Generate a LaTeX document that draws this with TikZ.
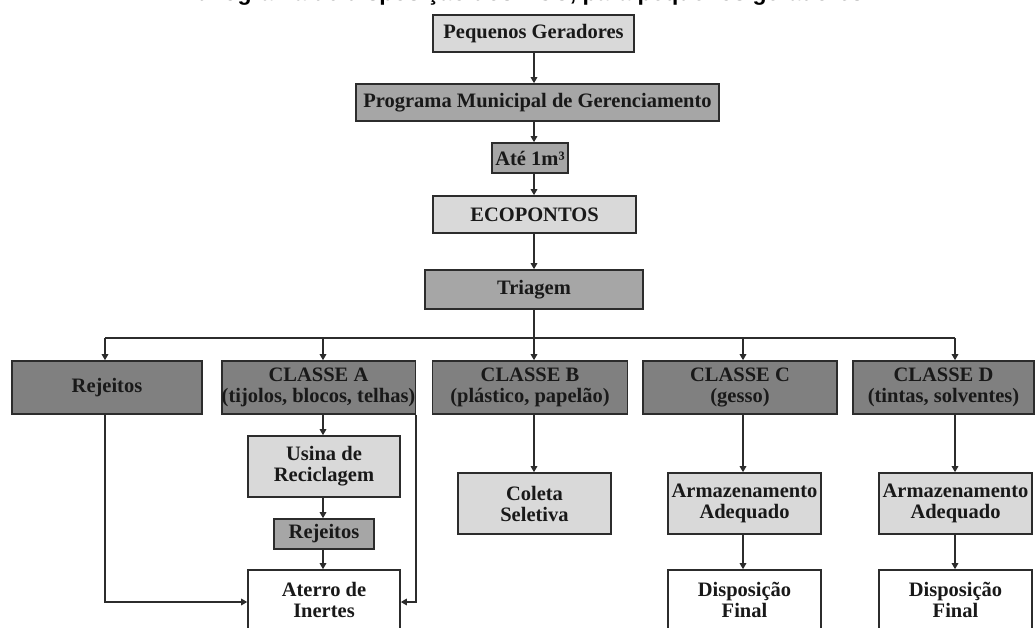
\documentclass[tikz,border=0pt]{standalone}
\usepackage{fontspec}
\setmainfont{Liberation Serif}
\newfontfamily\headfont{Liberation Sans}
\usetikzlibrary{arrows.meta}
\definecolor{boxlight}{HTML}{D9D9D9}
\definecolor{boxmid}{HTML}{A6A6A6}
\definecolor{boxdark}{HTML}{808080}
\definecolor{edgegray}{HTML}{2C2C2C}
\begin{document}
\begin{tikzpicture}[x=1pt,y=-1pt,
  box/.style={draw=edgegray,line width=1.6pt,inner sep=0pt,align=center,
    font=\bfseries\fontsize{20.5}{21}\selectfont,text=black!90},
  light/.style={box,fill=boxlight},
  mid/.style={box,fill=boxmid},
  dark/.style={box,fill=boxdark},
  plain/.style={box,fill=white},
  link/.style={draw=edgegray,line width=1.4pt},
  arr/.style={link,-{Triangle[length=6pt,width=6.5pt]}},
]
\useasboundingbox (0,0) rectangle (1035,628);
\clip (0,0) rectangle (1035,628);
\fill[white] (0,0) rectangle (1035,628);

% heading line, cut by the top edge
\node[anchor=base,inner sep=0pt,font=\headfont\bfseries\fontsize{23}{23}\selectfont] (title) at (520,0.5)
  {Fluxograma de disposição dos RCC, para pequenos geradores};

% main column
\node[light,minimum width=201pt,minimum height=37pt] (pg) at (533.5,33.5) {Pequenos Geradores};
\node[mid,minimum width=363pt,minimum height=37pt] (pm) at (537.5,102.5) {Programa Municipal de Gerenciamento};
\node[mid,minimum width=76pt,minimum height=30pt] (ate) at (530,158) {Até 1m³};
\node[light,minimum width=203pt,minimum height=37pt] (eco) at (534.5,214.5) {ECOPONTOS};
\node[mid,minimum width=218pt,minimum height=39pt] (tri) at (534,289.5) {Triagem};

% classes
\node[dark,minimum width=190pt,minimum height=53pt] (rej) at (107,387.5) {Rejeitos};
\node[dark,minimum width=193pt,minimum height=53pt] (ca) at (318.5,387.5) {CLASSE A\\(tijolos, blocos, telhas)};
\node[dark,minimum width=195pt,minimum height=53pt] (cb) at (530,387.5) {CLASSE B\\(plástico, papelão)};
\node[dark,minimum width=194pt,minimum height=53pt] (cc) at (740,387.5) {CLASSE C\\(gesso)};
\node[dark,minimum width=181pt,minimum height=53pt] (cd) at (943.5,387.5) {CLASSE D\\(tintas, solventes)};

% destinations
\node[light,minimum width=152pt,minimum height=61pt] (usina) at (324,466.5) {Usina de\\Reciclagem};
\node[mid,minimum width=100pt,minimum height=30pt] (rj2) at (324,534) {Rejeitos};
\node[plain,minimum width=152pt,minimum height=60pt] (aterro) at (324,600) {Aterro de\\Inertes};
\node[light,minimum width=153pt,minimum height=61pt] (coleta) at (534.5,503.5) {Coleta\\Seletiva};
\node[light,minimum width=153pt,minimum height=61pt] (armC) at (744.5,503.5) {Armazenamento\\Adequado};
\node[light,minimum width=153pt,minimum height=61pt] (armD) at (955.5,503.5) {Armazenamento\\Adequado};
\node[plain,minimum width=153pt,minimum height=60pt] (dispC) at (744.5,600) {Disposição\\Final};
\node[plain,minimum width=153pt,minimum height=60pt] (dispD) at (955.5,600) {Disposição\\Final};

% guide coordinates for the connector runs
\coordinate (spine) at (534,0);
\coordinate (colA) at (323,0);
\coordinate (b1) at (105,338);
\coordinate (b2) at (323,338);
\coordinate (b4) at (743,338);
\coordinate (b5) at (955,338);
\coordinate (lowrun) at (0,602);

% main column connectors
\draw[arr] (pg.south -| spine) -- (pm.north -| spine);
\draw[arr] (pm.south -| spine) -- (ate.north -| spine);
\draw[arr] (ate.south -| spine) -- (eco.north -| spine);
\draw[arr] (eco.south -| spine) -- (tri.north -| spine);

% distribution bus
\draw[link] (b1) -- (b5);
\draw[arr] (tri.south -| spine) -- (cb.north -| spine);
\draw[arr] (b1) -- (rej.north -| b1);
\draw[arr] (b2) -- (ca.north -| b2);
\draw[arr] (b4) -- (cc.north -| b4);
\draw[arr] (b5) -- (cd.north -| b5);

% class A branch
\draw[arr] (ca.south -| colA) -- (usina.north -| colA);
\draw[arr] (usina.south -| colA) -- (rj2.north -| colA);
\draw[arr] (rj2.south -| colA) -- (aterro.north -| colA);
\draw[arr] (rej.south -| b1) -- (b1 |- lowrun) -- (aterro.west |- lowrun);
\draw[arr] (ca.south east) -- (ca.south east |- lowrun) -- (aterro.east |- lowrun);

% classes B, C, D
\draw[arr] (cb.south -| spine) -- (coleta.north -| spine);
\draw[arr] (cc.south -| b4) -- (armC.north -| b4);
\draw[arr] (cd.south -| b5) -- (armD.north -| b5);
\draw[arr] (armC.south -| b4) -- (dispC.north -| b4);
\draw[arr] (armD.south -| b5) -- (dispD.north -| b5);
\end{tikzpicture}
\end{document}
